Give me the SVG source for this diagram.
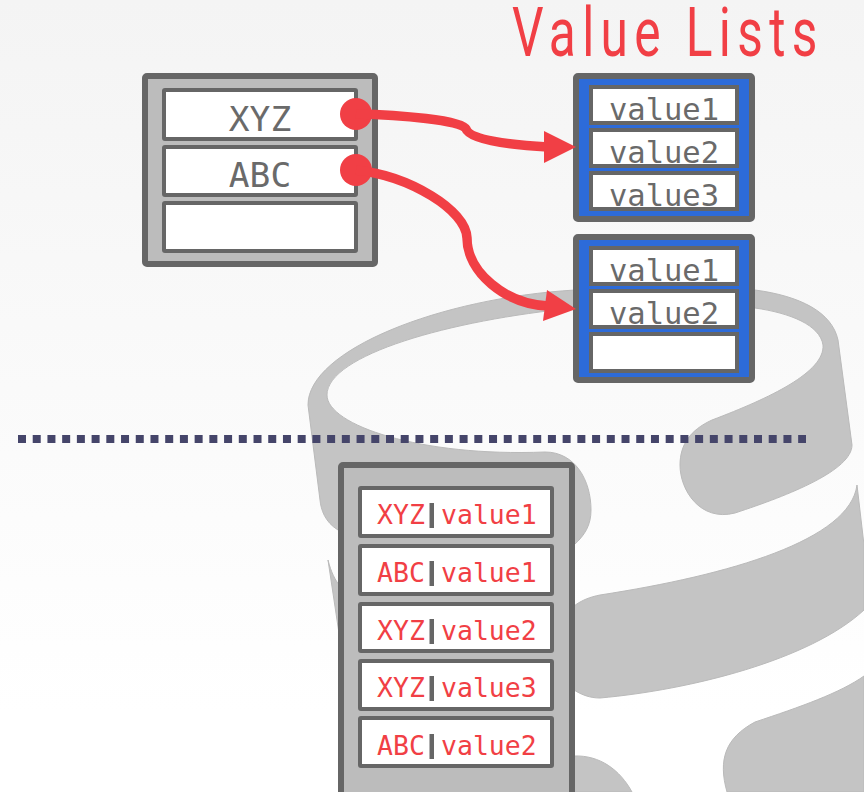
<svg xmlns="http://www.w3.org/2000/svg" width="864" height="792" viewBox="0 0 864 792">
<style>
.outer{stroke:#666;stroke-width:6;fill:#bcbcbc}
.blue{fill:#2d6bd9}
.row{fill:#fff;stroke:#666;stroke-width:4}
.t{font-family:"DejaVu Sans Mono",monospace;fill:#6a6a6a;text-anchor:middle}
.v{font-size:30.500px}
.k{font-size:34.500px}
.c{font-family:"DejaVu Sans Mono",monospace;font-size:26.500px;fill:#f13f45}
.bar{fill:#666}
.conn{fill:none;stroke:#f13f45;stroke-width:9.500}
.red{fill:#f13f45}
.cyl{fill:#c4c4c4;stroke:#bababa;stroke-width:1}
</style>
<defs>
<linearGradient id="bg" x1="0" y1="0" x2="0" y2="1"><stop offset="0" stop-color="#f4f4f4"/><stop offset="0.9" stop-color="#fff"/></linearGradient>
</defs>
<rect width="864" height="792" fill="url(#bg)"/>
<g id="cylinder">
<path class="cyl" d="M308 405C308 350 440 298 575 290L755 290C800 296 832 312 838 340L852 445C852 470 790 495 735 513C700 522 680 490 680 465C680 445 690 430 712 420C770 398 825 372 823 345C820 325 790 313 755 308L575 308C450 320 327 355 327 395C327 425 420 457 545 452C575 452 591 480 591 510C591 525 585 535 574 545L338 530C325 522 321 510 320 500Z"/>
<path class="cyl" d="M857 485L864 545L864 610C810 660 690 690 600 698C590 698 582 695 574 690L574 606C582 600 590 597 600 595C730 575 850 540 857 485Z"/>
<path class="cyl" d="M328 560C331 572 335 580 340 586L340 640Z"/>
<path class="cyl" d="M864 676L864 792L727 792C718 760 725 738 755 722C800 707 840 693 864 676Z"/>
<path class="cyl" d="M574 756C600 755 620 770 632 792L574 792Z"/>
</g>
<path id="separator" d="M18 439H806" fill="none" stroke="#45456a" stroke-width="8" stroke-dasharray="8 6.720"/>
<text id="title" transform="translate(512 56) scale(.72 1)" font-family="Roboto,sans-serif" font-weight="400" font-size="69" letter-spacing="8.800" fill="#f13f45">Value Lists</text>
<g id="keys">
<rect class="outer" x="145" y="76" width="230" height="188" rx="2"/>
<rect class="row" x="164" y="90" width="192" height="49" rx="1"/>
<rect class="row" x="164" y="147" width="192" height="48" rx="1"/>
<rect class="row" x="164" y="203" width="192" height="48" rx="1"/>
<text class="t k" x="260" y="131">XYZ</text>
<text class="t k" x="260" y="187">ABC</text>
</g>
<g id="list1">
<rect class="outer blue" x="576" y="76" width="176" height="143" rx="2"/>
<rect class="row" x="591" y="87" width="146" height="36"/>
<rect class="row" x="591" y="130" width="146" height="36"/>
<rect class="row" x="591" y="173" width="146" height="36"/>
<text class="t v" x="664" y="120">value1</text>
<text class="t v" x="664" y="163">value2</text>
<text class="t v" x="664" y="206">value3</text>
</g>
<g id="list2">
<rect class="outer blue" x="576" y="237" width="176" height="143" rx="2"/>
<rect class="row" x="591" y="248" width="146" height="36"/>
<rect class="row" x="591" y="291" width="146" height="36"/>
<rect class="row" x="591" y="334" width="146" height="37"/>
<text class="t v" x="664" y="281">value1</text>
<text class="t v" x="664" y="324">value2</text>
</g>
<g id="tuples">
<rect class="outer" x="341" y="465" width="231" height="330" rx="2"/>
<rect class="row" x="360" y="488" width="192" height="48" rx="1"/>
<rect class="row" x="360" y="546" width="192" height="48" rx="1"/>
<rect class="row" x="360" y="604" width="192" height="47" rx="1"/>
<rect class="row" x="360" y="661" width="192" height="48" rx="1"/>
<rect class="row" x="360" y="718" width="192" height="48" rx="1"/>
<text class="c" x="377" y="524">XYZ</text><rect class="bar" x="429.500" y="503" width="4.500" height="25"/><text class="c" x="441" y="524">value1</text>
<text class="c" x="377" y="582">ABC</text><rect class="bar" x="429.500" y="561" width="4.500" height="25"/><text class="c" x="441" y="582">value1</text>
<text class="c" x="377" y="640">XYZ</text><rect class="bar" x="429.500" y="619" width="4.500" height="25"/><text class="c" x="441" y="640">value2</text>
<text class="c" x="377" y="697">XYZ</text><rect class="bar" x="429.500" y="676" width="4.500" height="25"/><text class="c" x="441" y="697">value3</text>
<text class="c" x="377" y="755">ABC</text><rect class="bar" x="429.500" y="734" width="4.500" height="25"/><text class="c" x="441" y="755">value2</text>
</g>
<g id="connectors">
<circle class="red" cx="356" cy="114" r="16"/>
<circle class="red" cx="356" cy="170" r="16"/>
<path class="conn" d="M356 114C400 115 462 120 466 129C470 140 510 145 548 147"/>
<path class="red" d="M544 131L576 147L544 163Z"/>
<path class="conn" d="M356 170C410 176 466 210 467 238C467 272 505 304 548 306"/>
<path class="red" d="M547 290L576 309L543 321Z"/>
</g>
</svg>
